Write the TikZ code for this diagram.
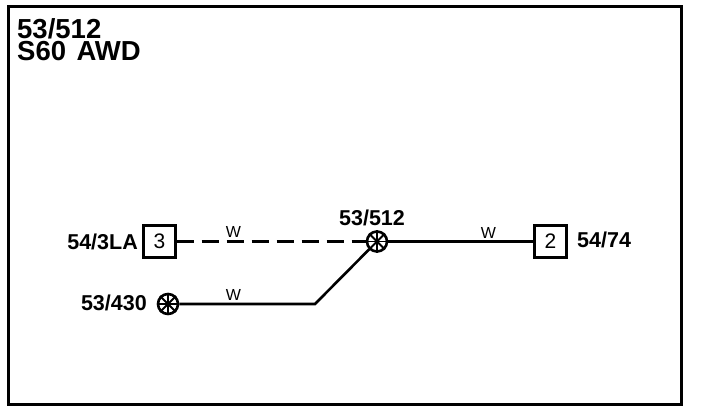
\documentclass[tikz,border=0pt]{standalone}
\usepackage{fontspec}
\setmainfont{Liberation Sans}
\tikzset{
  x=1pt,y=-1pt,
  frame/.style={draw=black,line width=3pt},
  wire/.style={draw=black,line width=2.6pt},
  dashwire/.style={wire,dash pattern=on 17pt off 8pt},
  pin/.style={draw=black,line width=2.4pt,minimum size=32pt,inner sep=0pt,font=\fontsize{21}{21}\selectfont},
  lbl/.style={inner sep=0pt,font=\bfseries\fontsize{21.5}{21.5}\selectfont},
  wirelbl/.style={inner sep=0pt,font=\fontsize{16}{16}\selectfont},
  title/.style={inner sep=0pt,align=left,font=\bfseries\fontsize{27.5}{22}\selectfont},
  splice/.style={circle,draw=black,line width=2.6pt,minimum size=20pt,inner sep=0pt},
}
\begin{document}
\begin{tikzpicture}
\useasboundingbox (0,0) rectangle (704,412);
\fill[white] (0,0) rectangle (704,412);
\draw[frame] (8,7) rectangle (681,404);
\node[title,anchor=north west] (ttl) at (17,18) {53/512\\{\spaceskip=0.38em S60 AWD}};
\node[pin] (p3) at (159.5,241.5) {3};
\node[pin] (p2) at (550.5,241.5) {2};
\node[splice] (s1) at (377,241.5) {};
\node[splice] (s2) at (168,304) {};
\foreach \s in {s1,s2}{
  \foreach \a in {0,45,90,135}{
    \draw[black,line width=1.8pt] (\s.\a) -- (\s.\a+180);
  }
}
\coordinate (bend) at (315,304);
\draw[dashwire] (p3.east) -- (s1.west);
\draw[wire] (s1.east) -- (p2.west);
\draw[wire] (s2.east) -- (bend) -- (s1.225);
\node[lbl,anchor=east] (l3) at (138,242) {54/3LA};
\node[lbl,anchor=west] (l2) at (577,240) {54/74};
\node[lbl,anchor=east] (l430) at (147,303) {53/430};
\node[lbl] (l512) at (372,218) {53/512};
\node[wirelbl] (w1) at (233.5,232) {W};
\node[wirelbl] (w2) at (233.5,295) {W};
\node[wirelbl] (w3) at (488.5,232.5) {W};
\end{tikzpicture}
\end{document}
